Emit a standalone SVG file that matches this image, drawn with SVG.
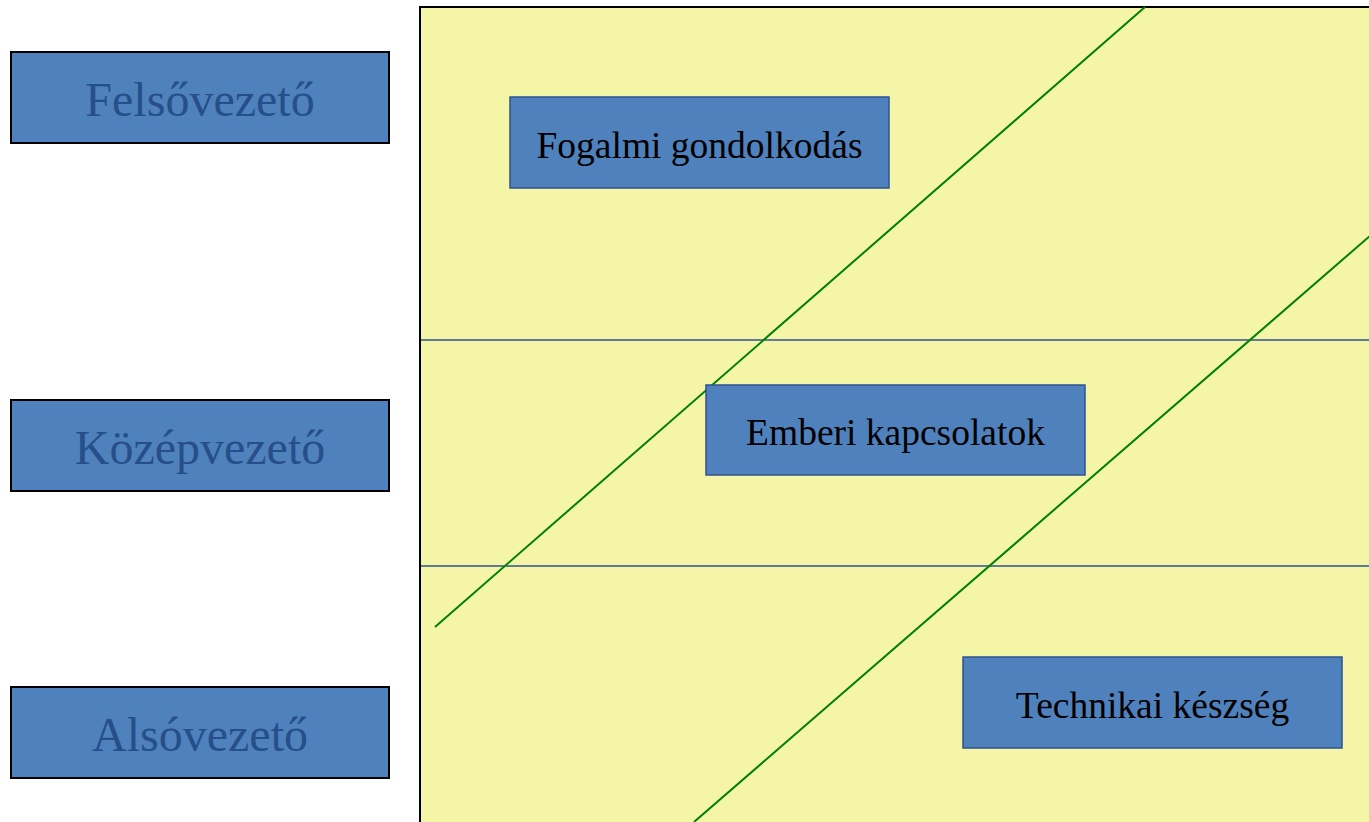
<svg xmlns="http://www.w3.org/2000/svg" width="1369" height="822" viewBox="0 0 1369 822">
<style>
.lvl{fill:#4F81BD;stroke:#000;stroke-width:2}
.lvlt{font-family:"Liberation Serif",serif;font-size:48px;fill:#264F8A;text-anchor:middle;dominant-baseline:central}
.sk{fill:#4F81BD;stroke:#2F528F;stroke-width:1.5}
.skt{font-family:"Liberation Serif",serif;font-size:37.5px;fill:#000;text-anchor:middle;dominant-baseline:central}
.hl{stroke:#2F528F;stroke-width:1.5}
.gl{stroke:#008000;stroke-width:2}
</style>
<rect width="1369" height="822" fill="#fff"/>
<g id="panel">
<rect x="420" y="7" width="960" height="830" fill="#F5F5A8" stroke="#000" stroke-width="2"/>
</g>
<g id="connectors">
<line class="hl" x1="421" y1="340" x2="1369" y2="340"/>
<line class="hl" x1="421" y1="566" x2="1369" y2="566"/>
<line class="gl" x1="435" y1="627" x2="1145" y2="7"/>
<line class="gl" x1="694" y1="822" x2="1371" y2="235"/>
</g>
<g id="felsovezeto"><rect class="lvl" x="11" y="52" width="378" height="91"/><text class="lvlt" x="200" y="99">Felsővezető</text></g>
<g id="kozepvezeto"><rect class="lvl" x="11" y="400" width="378" height="91"/><text class="lvlt" x="200" y="447">Középvezető</text></g>
<g id="alsovezeto"><rect class="lvl" x="11" y="687" width="378" height="91"/><text class="lvlt" x="200" y="734">Alsóvezető</text></g>
<g id="fogalmi"><rect class="sk" x="510" y="97" width="379" height="91"/><text class="skt" x="699.5" y="145">Fogalmi gondolkodás</text></g>
<g id="emberi"><rect class="sk" x="706" y="385" width="379" height="90"/><text class="skt" x="895.5" y="432">Emberi kapcsolatok</text></g>
<g id="technikai"><rect class="sk" x="963" y="657" width="379" height="91"/><text class="skt" x="1152.5" y="705">Technikai készség</text></g>
</svg>
